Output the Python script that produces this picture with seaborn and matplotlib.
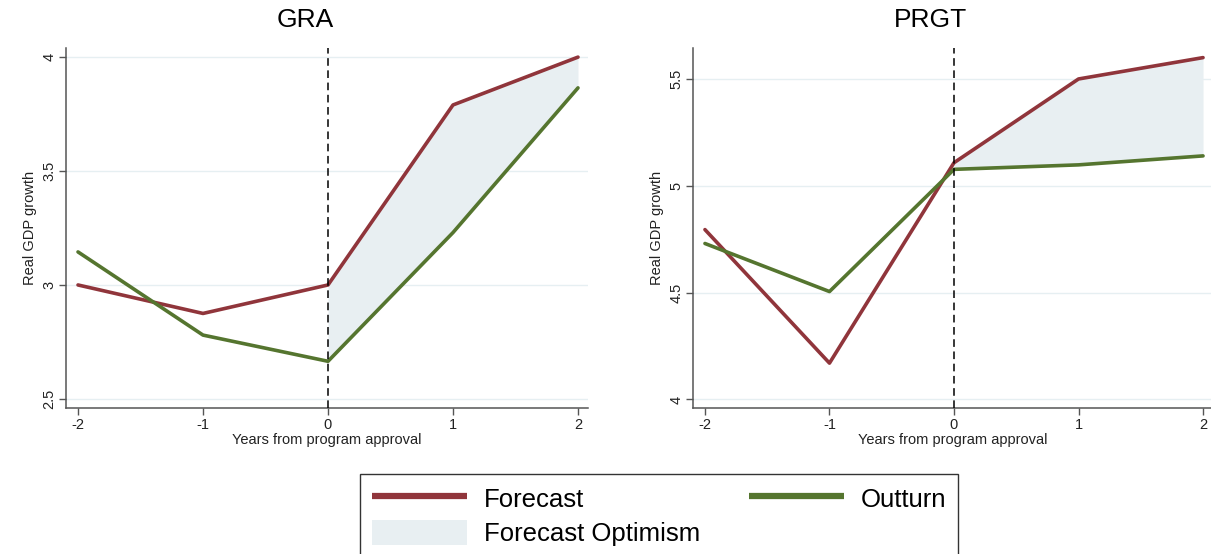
import matplotlib
matplotlib.use("Agg")
import matplotlib.pyplot as plt
import seaborn as sns
import pandas as pd
import numpy as np
from matplotlib.lines import Line2D
from matplotlib.patches import Patch

years = [-2, -1, 0, 1, 2]
gra_forecast = [3.00, 2.875, 3.00, 3.79, 4.00]
gra_outturn = [3.145, 2.78, 2.665, 3.23, 3.865]
prgt_forecast = [4.795, 4.17, 5.108, 5.50, 5.60]
prgt_outturn = [4.73, 4.505, 5.077, 5.098, 5.14]
gra_yticks = [2.5, 3, 3.5, 4]
prgt_yticks = [4, 4.5, 5, 5.5]
xticks = [-2, -1, 0, 1, 2]

RED = "#90353b"
GREEN = "#55752f"
FILL = "#e8eff2"
GRID = "#e6eff2"

sns.set_theme(style="white")
plt.rcParams["font.family"] = ["Liberation Sans", "DejaVu Sans"]
plt.rcParams["text.color"] = "black"

fig = plt.figure(figsize=(12.11, 5.54), dpi=100)
fig.patch.set_facecolor("white")

panels = [
    ("GRA", gra_forecast, gra_outturn, gra_yticks, (2.46, 4.04),
     [66 / 1211, 1 - 408 / 554, 522 / 1211, 360 / 554], 305),
    ("PRGT", prgt_forecast, prgt_outturn, prgt_yticks, (3.96, 5.645),
     [693 / 1211, 1 - 408 / 554, 520 / 1211, 360 / 554], 930),
]

for title, fc, ot, yt, ylim, rect, tx in panels:
    ax = fig.add_axes(rect)
    df = pd.DataFrame({"year": years * 2,
                       "value": fc + ot,
                       "series": ["Forecast"] * 5 + ["Outturn"] * 5})
    yr = np.array(years)
    mask = yr >= 0
    ax.fill_between(yr[mask], np.array(fc)[mask], np.array(ot)[mask],
                    color=FILL, linewidth=0, zorder=1)
    for t in yt:
        ax.axhline(t, color=GRID, linewidth=1.0, zorder=0)
    sns.lineplot(data=df, x="year", y="value", hue="series",
                 palette={"Forecast": RED, "Outturn": GREEN},
                 linewidth=2.6, ax=ax, legend=False, zorder=3)
    ax.axvline(0, color="black", linestyle=(0, (5, 3)), linewidth=1.1, zorder=4)
    ax.set_xlim(-2.096, 2.08)
    ax.set_ylim(*ylim)
    ax.set_xticks(xticks)
    ax.set_xticklabels([str(x) for x in xticks])
    ax.set_yticks(yt)
    ax.set_yticklabels([f"{t:g}" for t in yt], rotation=90, va="center")
    ax.set_xlabel("Years from program approval", fontsize=10.5, labelpad=1, color="#222222")
    ax.set_ylabel("Real GDP growth", fontsize=10.5, labelpad=4, color="#222222")
    ax.tick_params(axis="both", labelsize=10.5, length=5, width=1, color="#555555",
                   direction="out", bottom=True, left=True, pad=2, labelcolor="#222222")
    for s in ["top", "right"]:
        ax.spines[s].set_visible(False)
    for s in ["left", "bottom"]:
        ax.spines[s].set_color("#555555")
        ax.spines[s].set_linewidth(1.1)
    ax.set_facecolor("white")
    fig.text(tx / 1211, 1 - 20 / 554, title, ha="center", va="center",
             fontsize=19, color="black")

handles = [Line2D([0], [0], color=RED, linewidth=4.5, solid_capstyle="butt"),
           Patch(facecolor=FILL, edgecolor="none"),
           Line2D([0], [0], color=GREEN, linewidth=4.5, solid_capstyle="butt")]
labels = ["Forecast", "Forecast Optimism", "Outturn"]
leg = fig.legend(handles, labels, ncol=2, loc="upper center",
                 bbox_to_anchor=(659 / 1211, 1 - 474 / 554),
                 fontsize=18.5, frameon=True, fancybox=False, edgecolor="black",
                 handlelength=3.7, handleheight=1.15, columnspacing=1.9,
                 borderpad=0.45, labelspacing=0.3, handletextpad=0.65,
                 borderaxespad=0)
leg.get_frame().set_linewidth(1.0)
for t in leg.get_texts():
    t.set_color("black")

fig.savefig("out.png", dpi=100, facecolor="white")
